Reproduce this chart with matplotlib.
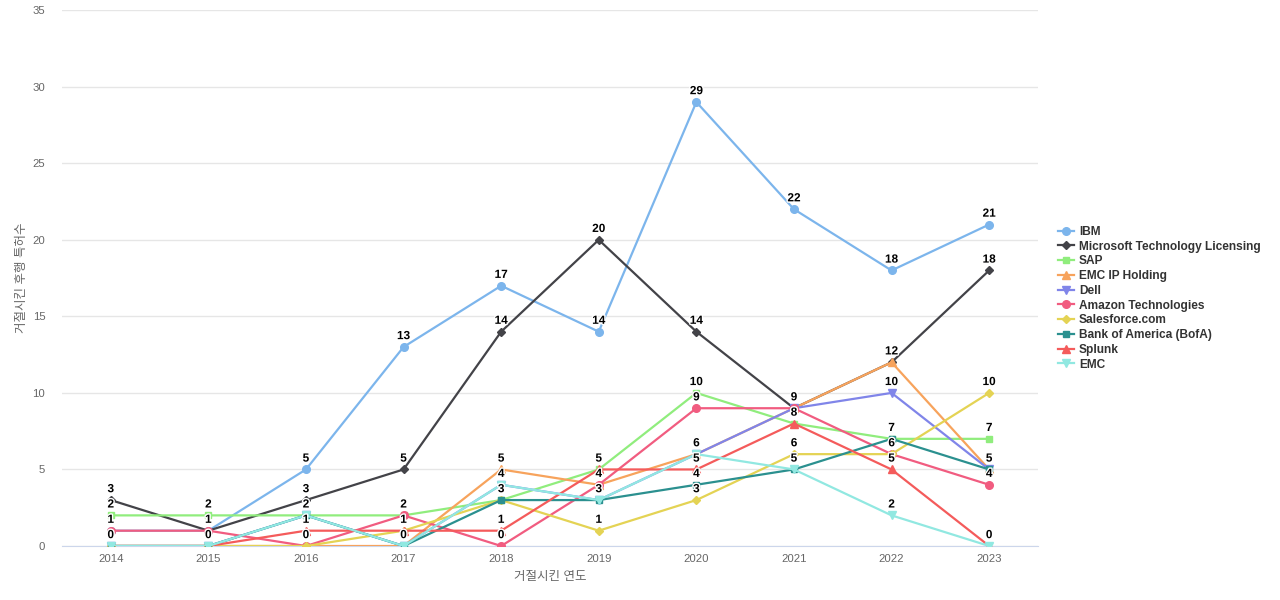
import matplotlib
matplotlib.use("Agg")
import matplotlib.pyplot as plt
import matplotlib.patheffects as pe

plt.rcParams['font.family'] = ['Liberation Sans', 'Noto Sans CJK KR', 'DejaVu Sans']

# data
years = [2014, 2015, 2016, 2017, 2018, 2019, 2020, 2021, 2022, 2023]
ibm        = [1, 1, 5, 13, 17, 14, 29, 22, 18, 21]
microsoft  = [3, 1, 3, 5, 14, 20, 14, 9, 12, 18]
sap        = [2, 2, 2, 2, 3, 5, 10, 8, 7, 7]
emc_ip     = [0, 0, 0, 0, 5, 4, 6, 9, 12, 5]
dell       = [0, 0, 2, 0, 4, 3, 6, 9, 10, 5]
amazon     = [1, 1, 0, 2, 0, 4, 9, 9, 6, 4]
salesforce = [0, 0, 0, 1, 3, 1, 3, 6, 6, 10]
bofa       = [0, 0, 2, 0, 3, 3, 4, 5, 7, 5]
splunk     = [0, 0, 1, 1, 1, 5, 5, 8, 5, 0]
emc        = [0, 0, 2, 0, 4, 3, 6, 5, 2, 0]

series = [
    ("IBM", ibm, "#7cb5ec", "o", 5.5),
    ("Microsoft Technology Licensing", microsoft, "#434348", "D", 3.6),
    ("SAP", sap, "#90ed7d", "s", 5),
    ("EMC IP Holding", emc_ip, "#f7a35c", "^", 5.2),
    ("Dell", dell, "#8085e9", "v", 5.2),
    ("Amazon Technologies", amazon, "#f15c80", "o", 5.5),
    ("Salesforce.com", salesforce, "#e4d354", "D", 3.6),
    ("Bank of America (BofA)", bofa, "#2b908f", "s", 5),
    ("Splunk", splunk, "#f45b5b", "^", 5.2),
    ("EMC", emc, "#91e8e1", "v", 5.2),
]

fig = plt.figure(figsize=(12.8, 6), dpi=100)
ax = fig.add_axes([0.0484, 0.09, 0.7625, 0.893])

xs = list(range(len(years)))
for name, vals, col, mk, ms in series:
    ax.plot(xs, vals, color=col, marker=mk, markersize=ms, linewidth=1.6,
            label=name, zorder=3)

# one data label per distinct value at each year
for i in xs:
    shown = set()
    for name, vals, col, mk, ms in series:
        v = vals[i]
        if v in shown:
            continue
        shown.add(v)
        ax.annotate(str(v), (i, v), xytext=(0, 3.5), textcoords="offset points",
                    ha="center", va="bottom", fontsize=8.5, fontweight="bold",
                    color="black", zorder=5,
                    path_effects=[pe.withStroke(linewidth=2, foreground="white")])

ax.set_xlim(-0.5, 9.5)
ax.set_ylim(0, 35)
ax.set_yticks([0, 5, 10, 15, 20, 25, 30, 35])
ax.set_xticks(xs)
ax.set_xticklabels([str(y) for y in years])
ax.grid(axis="y", color="#e6e6e6", linewidth=1)
ax.set_axisbelow(True)
for s in ["top", "right", "left"]:
    ax.spines[s].set_visible(False)
ax.spines["bottom"].set_color("#ccd6eb")
ax.tick_params(axis="both", length=0, labelsize=8.2, labelcolor="#666666")
ax.tick_params(axis="y", pad=12)
ax.tick_params(axis="x", pad=6)
ax.set_xlabel("거절시킨 연도", fontsize=9, color="#666666", labelpad=5)
ax.set_ylabel("거절시킨 후행 특허수", fontsize=9, color="#666666", labelpad=3)

leg = fig.legend(loc="center left", bbox_to_anchor=(1058 / 1280, 0.503),
                 frameon=False, fontsize=8.6, handlelength=1.3,
                 labelspacing=0.23, handletextpad=0.45, borderaxespad=0,
                 borderpad=0)
for t in leg.get_texts():
    t.set_fontweight("bold")
    t.set_color("#333333")

fig.savefig("out.png", dpi=100)
